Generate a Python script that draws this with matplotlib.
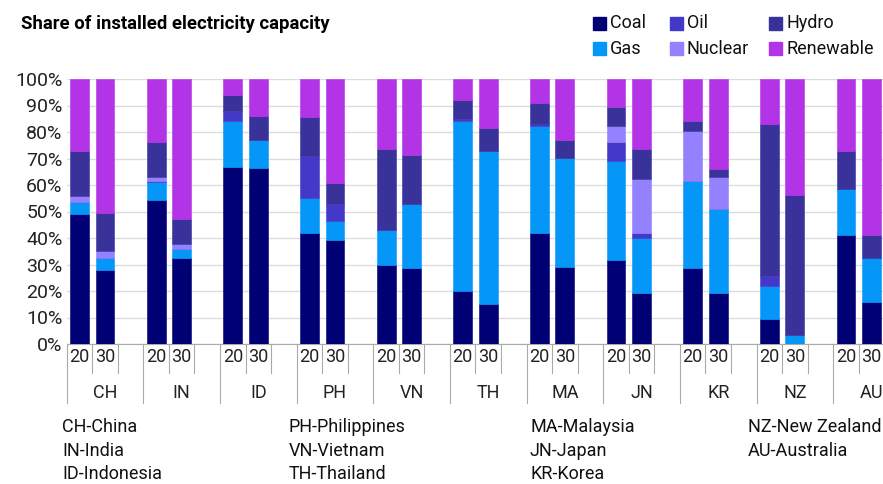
import numpy as np
import matplotlib
matplotlib.use("Agg")
import matplotlib.pyplot as plt
from matplotlib.patches import Rectangle

plt.rcParams["font.family"] = ["Roboto", "DejaVu Sans"]

countries = ["CH", "IN", "ID", "PH", "VN", "TH", "MA", "JN", "KR", "NZ", "AU"]
years = ["20", "30"]

# shares in %, order: CH20, CH30, IN20, IN30, ... AU20, AU30
coal = [49.0, 27.8, 54.3, 32.3, 66.9, 66.3, 41.7, 39.1, 29.8, 28.5, 19.9,
        15.2, 41.7, 29.0, 31.8, 19.2, 28.5, 19.2, 9.3, 0.0, 41.2, 15.9]
gas = [4.5, 4.5, 6.8, 3.4, 17.3, 10.6, 13.4, 7.2, 13.4, 24.5, 64.3,
       57.8, 40.6, 41.3, 37.3, 20.7, 33.1, 31.8, 12.7, 3.4, 17.3, 16.7]
oil = [0.0, 0.0, 0.5, 0.0, 3.9, 0.0, 15.7, 6.7, 0.0, 0.0, 0.8,
       0.0, 0.8, 0.0, 7.2, 1.9, 0.0, 0.0, 3.8, 0.0, 0.0, 0.0]
nuclear = [2.3, 2.9, 1.3, 2.2, 0.0, 0.0, 0.0, 0.0, 0.0, 0.0, 0.0,
           0.0, 0.0, 0.0, 6.0, 20.6, 18.8, 12.0, 0.0, 0.0, 0.0, 0.0]
hydro = [17.1, 14.3, 13.4, 9.1, 6.0, 9.2, 14.7, 7.9, 30.3, 18.5, 7.2,
         8.4, 7.7, 6.5, 7.1, 11.1, 3.7, 3.2, 57.2, 52.9, 14.4, 8.6]
renewable = [27.1, 50.5, 23.7, 53.0, 5.9, 13.9, 14.5, 39.1, 26.5, 28.5, 7.8,
             18.6, 9.2, 23.2, 10.6, 26.5, 15.9, 33.8, 17.0, 43.7, 27.1, 58.8]

series = [("Coal", coal, "#000075"), ("Gas", gas, "#0597F8"),
          ("Oil", oil, "#4438C8"), ("Nuclear", nuclear, "#9381FF"),
          ("Hydro", hydro, "#38329A"), ("Renewable", renewable, "#B333E6")]

notes = [["CH-China", "IN-India", "ID-Indonesia"],
         ["PH-Philippines", "VN-Vietnam", "TH-Thailand"],
         ["MA-Malaysia", "JN-Japan", "KR-Korea"],
         ["NZ-New Zealand", "AU-Australia"]]
note_x = [62, 289, 530, 748]

W, H = 883, 484
fig = plt.figure(figsize=(W / 100, H / 100), dpi=100)
ax = fig.add_axes([66.7 / W, 140 / H, 1 - 66.7 / W, 265 / H])

# bar positions: two bars per country, then an empty slot
x = np.array([3 * i + j for i in range(len(countries)) for j in range(2)])
bottom = np.zeros(len(x))
for name, vals, col in series:
    vals = np.array(vals)
    ax.bar(x, vals, bottom=bottom, width=0.74, color=col, label=name,
           edgecolor=col, linewidth=0.4, zorder=3)
    bottom += vals

ax.set_xlim(-0.5, 31.45)
ax.set_ylim(0, 100)
ax.set_yticks(range(0, 101, 10))
ax.set_yticklabels([f"{v}%" for v in range(0, 101, 10)], fontsize=14, color="#222222")
ax.yaxis.grid(True, color="#dcdcdc", linewidth=1, zorder=0)
ax.tick_params(axis="y", length=0, pad=3)
ax.set_xticks([])
for s in ["top", "right", "left"]:
    ax.spines[s].set_visible(False)
ax.spines["bottom"].set_color("#aaaaaa")

# two-level category axis below the bars
for i, c in enumerate(countries):
    base = 3 * i
    for j, yr in enumerate(years):
        ax.text(base + j, -4.8, yr, ha="center", va="center", fontsize=13,
                color="#222222", clip_on=False)
    for xd in (base + 0.5, base + 1.5):
        ax.plot([xd, xd], [0, -11], color="#aaaaaa", lw=0.8, clip_on=False)
    ax.plot([base - 0.5, base - 0.5], [0, -22.3], color="#aaaaaa", lw=0.8, clip_on=False)
    ax.text(base + 1, -18.5, c, ha="center", va="center", fontsize=13,
            color="#222222", clip_on=False)

for col_x, col in zip(note_x, notes):
    for k, t in enumerate(col):
        fig.text(col_x / W, 1 - (427 + 23.5 * k) / H, t, ha="left", va="center",
                 fontsize=13, color="#111111")

fig.text(21 / W, 1 - 24 / H, "Share of installed electricity capacity",
         fontsize=13.3, fontweight="bold", ha="left", va="center")

# legend laid out in a 3x2 grid like the original
leg_x = [593, 670, 769]
leg_y = [23.5, 48.5]
for k, (name, _, col) in enumerate(series):
    cx, ry = leg_x[k // 2], leg_y[k % 2]
    fig.patches.append(Rectangle((cx / W, 1 - (ry + 6.5) / H), 13 / W, 13 / H,
                                 transform=fig.transFigure, color=col))
    fig.text((cx + 17) / W, 1 - ry / H, name, ha="left", va="center",
             fontsize=13, color="#111111")

fig.savefig("out.png", dpi=100)
